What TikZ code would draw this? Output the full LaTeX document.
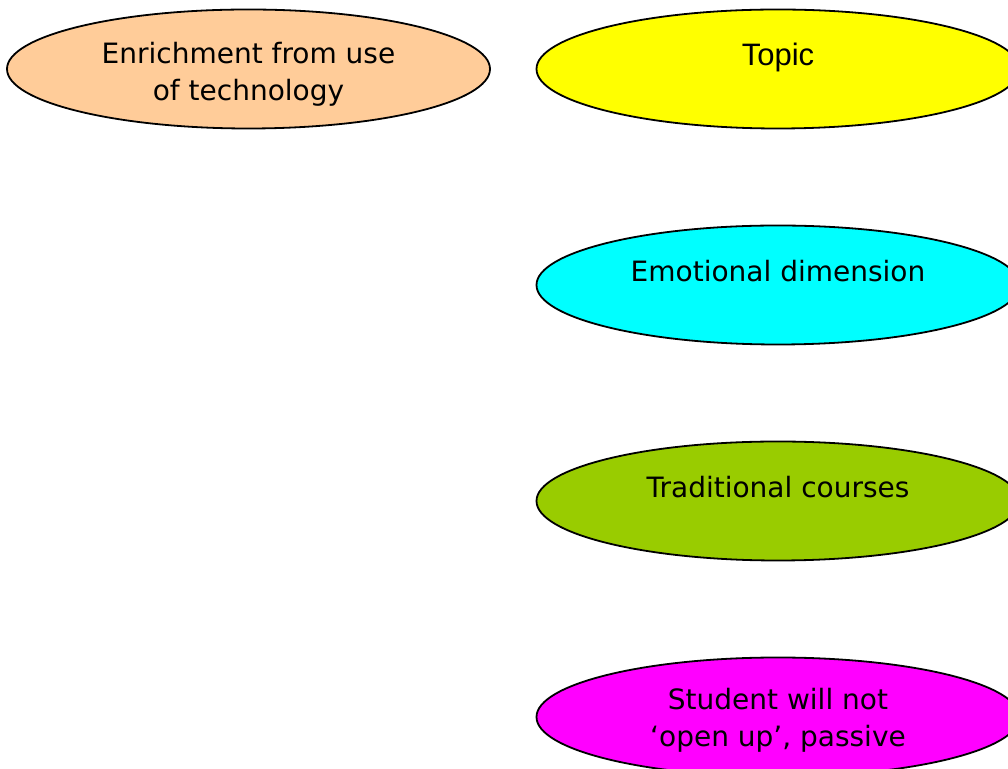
\documentclass[tikz,border=0pt]{standalone}
\usepackage{fontspec}
\usepackage{tikz}
\usetikzlibrary{shapes.geometric}
\newfontfamily\tahomafont{DejaVu Sans}
\newfontfamily\arialfont{Liberation Sans}
\definecolor{peach}{HTML}{FFCC99}
\definecolor{topicyellow}{HTML}{FFFF00}
\definecolor{emocyan}{HTML}{00FFFF}
\definecolor{coursegreen}{HTML}{99CC00}
\definecolor{passivepink}{HTML}{FF00FF}

\begin{document}
\begin{tikzpicture}[x=0.5pt,y=-0.5pt,
	bubble/.style={ellipse, draw=black, line width=0.9pt, minimum width=241.5pt, minimum height=59.5pt, inner sep=0pt},
	words/.style={font=\tahomafont\fontsize{14}{18.5}\selectfont, align=center, inner sep=0pt}]
	\useasboundingbox (0,0) rectangle (1008,769);
	\node [bubble, fill=peach] (tech) at (248.5,69) {};
	\node [bubble, fill=topicyellow] (topic) at (778,69) {};
	\node [bubble, fill=emocyan] (emotion) at (778,285) {};
	\node [bubble, fill=coursegreen] (courses) at (778,501) {};
	\node [bubble, fill=passivepink] (passive) at (778,717) {};
	\node [words] (techtext) at ([yshift=-2.5pt]tech.center) {Enrichment from use\\of technology};
	\node [words, anchor=base, font=\arialfont\fontsize{15.5}{18.5}\selectfont] (topictext) at ([yshift=1.5pt]topic.center) {Topic};
	\node [words, anchor=base] (emotiontext) at ([yshift=1.5pt]emotion.center) {Emotional dimension};
	\node [words, anchor=base] (coursestext) at ([yshift=1.5pt]courses.center) {Traditional courses};
	\node [words] (passivetext) at ([yshift=-1.5pt]passive.center) {Student will not\\‘open up’, passive};
\end{tikzpicture}
\end{document}
